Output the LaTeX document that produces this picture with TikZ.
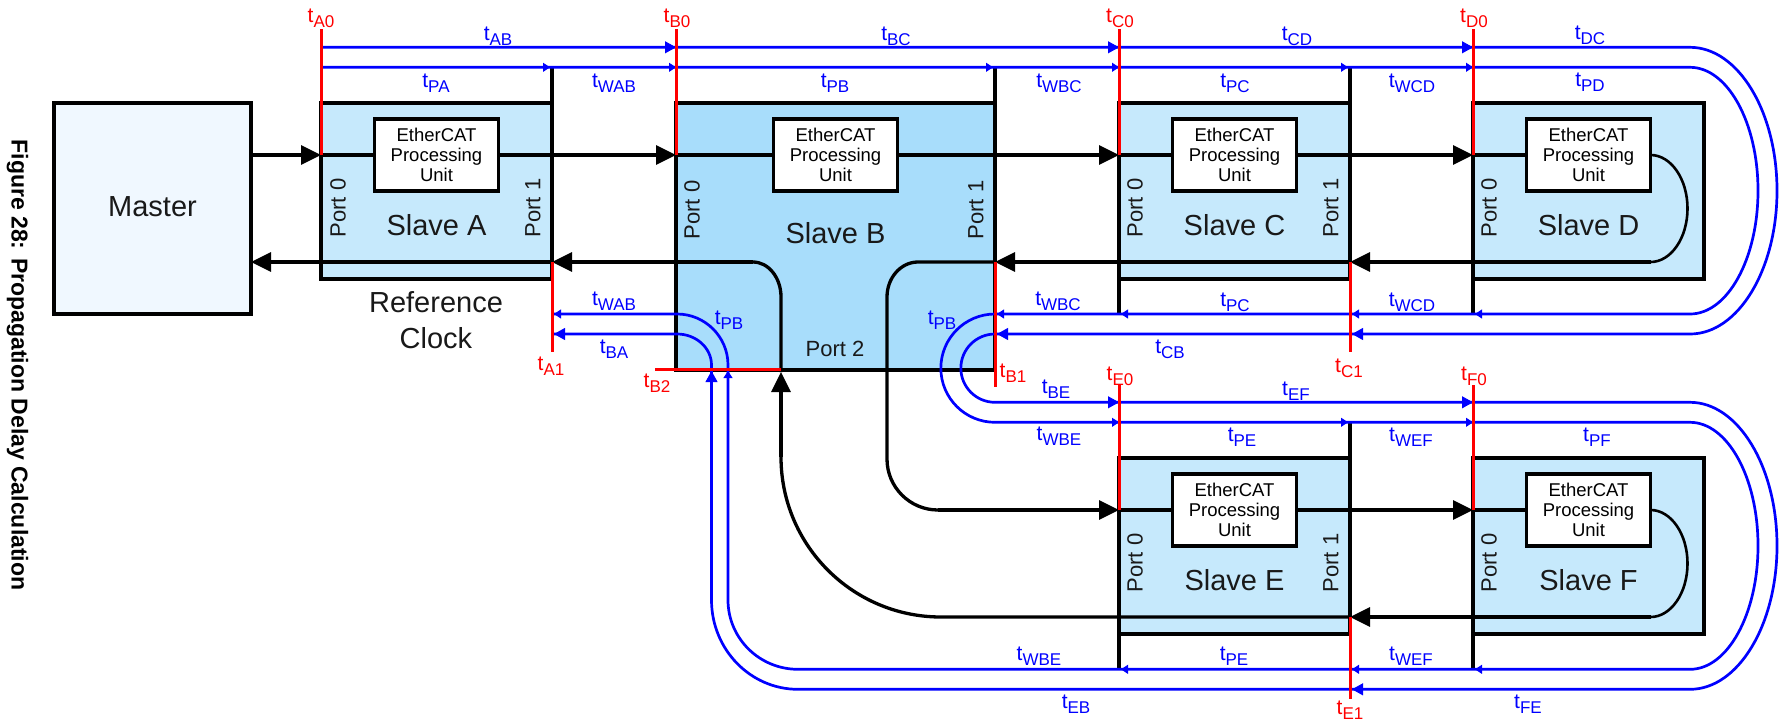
\documentclass[tikz,border=0pt]{standalone}
\usepackage{fontspec}
\setmainfont{Liberation Sans}
\usetikzlibrary{arrows.meta}
\definecolor{mfill}{RGB}{240,248,255}
\definecolor{sfill}{RGB}{198,233,252}
\definecolor{bfill}{RGB}{168,221,251}
\definecolor{lblue}{RGB}{0,0,255}
\definecolor{lred}{RGB}{255,0,0}
\newcommand\tsub[1]{t\raisebox{-5pt}{\fontsize{17}{17}\selectfont #1}}
\begin{document}
\begin{tikzpicture}[x=1pt,y=-1pt,
  box/.style={draw=black,line width=3.3pt,inner sep=0pt,outer sep=0pt,anchor=north west},
  slave/.style={box,fill=sfill,minimum width=231pt,minimum height=176pt},
  epu/.style={draw=black,line width=3.3pt,fill=white,inner sep=0pt,outer sep=0pt,minimum width=124pt,minimum height=72pt,anchor=north,align=center,font=\fontsize{18.5}{20}\selectfont},
  blk/.style={draw=black,line width=3.3pt},
  bigarr/.style={-{Triangle[length=20pt,width=19pt]}},
  bln/.style={draw=lblue,line width=2.7pt},
  rln/.style={draw=lred,line width=3pt},
  barr/.style={draw=lblue,line width=1pt,-{Triangle[length=11pt,width=12pt]}},
  btick/.style={draw=lblue,line width=1pt,-{Triangle[length=7pt,width=9pt]}},
  blab/.style={text=lblue,font=\fontsize{21}{21}\selectfont,inner sep=0pt},
  rlab/.style={text=lred,font=\fontsize{21}{21}\selectfont,inner sep=0pt},
  bigtxt/.style={font=\fontsize{29}{36}\selectfont,align=center,text=black!90,inner sep=0pt},
  port/.style={font=\fontsize{22}{22}\selectfont,rotate=90,text=black!90,inner sep=0pt},
]
\useasboundingbox (0,0) rectangle (1785,721);

% caption
\node[rotate=-90,font=\bfseries\fontsize{23}{23}\selectfont,inner sep=0pt] (cap) at (17.5,365) {Figure 28: Propagation Delay Calculation};

% boxes
\node[box,fill=mfill,minimum width=197pt,minimum height=211pt] (master) at (54,103) {};
\node[slave] (slA) at (321,103) {};
\node[box,fill=bfill,minimum width=319pt,minimum height=267pt] (slB) at (676,103) {};
\node[slave] (slC) at (1119,103) {};
\node[slave] (slD) at (1473,103) {};
\node[slave] (slE) at (1119,458) {};
\node[slave] (slF) at (1473,458) {};

\node[epu] (eA) at (436.5,119) {EtherCAT\\Processing\\Unit};
\node[epu] (eB) at (835.5,119) {EtherCAT\\Processing\\Unit};
\node[epu] (eC) at (1234.5,119) {EtherCAT\\Processing\\Unit};
\node[epu] (eD) at (1588.5,119) {EtherCAT\\Processing\\Unit};
\node[epu] (eE) at (1234.5,474) {EtherCAT\\Processing\\Unit};
\node[epu] (eF) at (1588.5,474) {EtherCAT\\Processing\\Unit};

% texts
\node[bigtxt] (mtxt) at (152.5,207) {Master};
\node[bigtxt] (atxt) at (436.5,225) {Slave A};
\node[bigtxt] (btxt) at (835.5,233) {Slave B};
\node[bigtxt] (ctxt) at (1234.5,225) {Slave C};
\node[bigtxt] (dtxt) at (1588.5,225) {Slave D};
\node[bigtxt] (etxt) at (1234.5,580) {Slave E};
\node[bigtxt] (ftxt) at (1588.5,580) {Slave F};
\node[bigtxt] (ref) at (436,320) {Reference\\Clock};
\node[port] (pA0) at (338,208) {Port 0};
\node[port] (pA1) at (533,208) {Port 1};
\node[port] (pB0) at (692,210) {Port 0};
\node[port] (pB1) at (976,210) {Port 1};
\node[port] (pC0) at (1135,208) {Port 0};
\node[port] (pC1) at (1331,208) {Port 1};
\node[port] (pD0) at (1489,208) {Port 0};
\node[port] (pE0) at (1135,563) {Port 0};
\node[port] (pE1) at (1331,563) {Port 1};
\node[port] (pF0) at (1489,563) {Port 0};
\node[font=\fontsize{22}{22}\selectfont,text=black!90,inner sep=0pt] (pB2) at (835,349) {Port 2};

% black extensions
\draw[blk] (552,67.3) -- (slA.north east);
\draw[blk] (995,67.3) -- (slB.north east);
\draw[blk] (1350,67.3) -- (slC.north east);
\draw[blk] (slC.south west) -- (1119,314);
\draw[blk] (slD.south west) -- (1473,314);
\draw[blk] (1350,422.3) -- (slE.north east);
\draw[blk] (slE.south west) -- (1119,669.3);
\draw[blk] (slF.south west) -- (1473,669.3);

% black flow
\draw[blk,bigarr] (master.east |- eA.west) -- (slA.west |- eA.west);
\draw[blk] (slA.west |- eA.west) -- (eA.west);
\draw[blk,bigarr] (eA.east) -- (slB.west |- eA.east);
\draw[blk] (slB.west |- eB.west) -- (eB.west);
\draw[blk,bigarr] (eB.east) -- (slC.west |- eB.east);
\draw[blk] (slC.west |- eC.west) -- (eC.west);
\draw[blk,bigarr] (eC.east) -- (slD.west |- eC.east);
\draw[blk] (slD.west |- eD.west) -- (eD.west);
\draw[blk,line width=2.6pt] (eD.east) arc[start angle=-90,end angle=90,x radius=37,y radius=53.5] coordinate (dret);
\draw[blk,bigarr] (dret) -- (slC.east |- dret);
\draw[blk,bigarr] (slC.east |- dret) -- (slB.east |- dret);
\draw[blk] (slB.east |- dret) -- (918,262) arc[start angle=-90,end angle=-180,x radius=31,y radius=35] -- (887,459) arc[start angle=180,end angle=90,radius=51] coordinate (bE);
\draw[blk,bigarr] (bE) -- (slE.west |- eE.west);
\draw[blk] (slE.west |- eE.west) -- (eE.west);
\draw[blk,bigarr] (eE.east) -- (slF.west |- eE.east);
\draw[blk] (slF.west |- eF.west) -- (eF.west);
\draw[blk,line width=2.6pt] (eF.east) arc[start angle=-90,end angle=90,x radius=37,y radius=53.5] coordinate (fret);
\draw[blk,bigarr] (fret) -- (slE.east |- fret);
\draw[blk] (slE.east |- fret) -- (941,617) arc[start angle=90,end angle=180,radius=160] coordinate (bup);
\draw[blk,bigarr] (bup) -- (781,372);
\draw[blk] (781,372) -- (781,297) arc[start angle=0,end angle=-90,x radius=28,y radius=35] coordinate (bret);
\draw[blk,bigarr] (bret) -- (slA.east |- bret);
\draw[blk,bigarr] (slA.east |- bret) -- (master.east |- bret);

% blue lines
\draw[bln] (321,47.3) -- (1690,47.3) arc[start angle=-90,end angle=90,x radius=87,y radius=143.35] -- (995,334) arc[start angle=-90,end angle=-270,radius=34.15] -- (1690,402.3) arc[start angle=-90,end angle=90,x radius=87,y radius=143.5] -- (798,689.3) arc[start angle=90,end angle=180,x radius=86.5,y radius=89.3] -- (711.5,365) arc[start angle=0,end angle=-90,x radius=34.5,y radius=31] -- (552,334);
\draw[bln] (321,67.3) -- (1690,67.3) arc[start angle=-90,end angle=90,x radius=68,y radius=123.35] -- (995,314) arc[start angle=-90,end angle=-270,radius=54.15] -- (1690,422.3) arc[start angle=-90,end angle=90,x radius=68,y radius=123.5] -- (798,669.3) arc[start angle=90,end angle=180,x radius=70,y radius=69.3] -- (728,365) arc[start angle=0,end angle=-90,radius=51] -- (552,314);

% blue arrowheads
\foreach \x in {676,1119,1473} \draw[barr] (\x-12,47.3) -- (\x,47.3);
\foreach \x in {550,676,993,1119,1348,1473} \draw[btick] (\x-8,67.3) -- (\x,67.3);
\foreach \x in {554,997,1352} \draw[barr] (\x+12,334) -- (\x,334);
\foreach \x in {554,997,1121,1352,1475} \draw[btick] (\x+8,314) -- (\x,314);
\foreach \x in {1119,1473} \draw[barr] (\x-12,402.3) -- (\x,402.3);
\foreach \x in {1119,1348,1473} \draw[btick] (\x-8,422.3) -- (\x,422.3);
\foreach \x in {1121,1352,1475} \draw[btick] (\x+8,669.3) -- (\x,669.3);
\draw[barr] (1364,689.3) -- (1352,689.3);
\draw[barr] (711.5,383) -- (711.5,371);
\draw[btick] (728,379) -- (728,371);

% red lines
\draw[rln] (321,29) -- (321,155);
\draw[rln] (676,29) -- (676,155);
\draw[rln] (1119,29) -- (1119,155);
\draw[rln] (1473,29) -- (1473,155);
\draw[rln] (552,262) -- (552,351.7);
\draw[rln] (995,262) -- (995,387);
\draw[rln] (1350,262) -- (1350,351.7);
\draw[rln] (655,369.5) -- (781,369.5);
\draw[rln] (1119,385) -- (1119,510);
\draw[rln] (1473,385) -- (1473,510);
\draw[rln] (1350,617) -- (1350,699);

% red labels
\node[rlab] (lA0) at (321,18) {\tsub{A0}};
\node[rlab] (lB0) at (677,18) {\tsub{B0}};
\node[rlab] (lC0) at (1120,18) {\tsub{C0}};
\node[rlab] (lD0) at (1474,18) {\tsub{D0}};
\node[rlab] (lA1) at (551,366) {\tsub{A1}};
\node[rlab] (lB2) at (657,383) {\tsub{B2}};
\node[rlab] (lB1) at (1013,373) {\tsub{B1}};
\node[rlab] (lC1) at (1349,368) {\tsub{C1}};
\node[rlab] (lE0) at (1120,376) {\tsub{E0}};
\node[rlab] (lF0) at (1474,376) {\tsub{F0}};
\node[rlab] (lE1) at (1350,710) {\tsub{E1}};

% blue labels
\node[blab] at (498,36) {\tsub{AB}};
\node[blab] at (896,36) {\tsub{BC}};
\node[blab] at (1297,36) {\tsub{CD}};
\node[blab] at (1590,35) {\tsub{DC}};
\node[blab] at (436,83) {\tsub{PA}};
\node[blab] at (614,83) {\tsub{WAB}};
\node[blab] at (835,83) {\tsub{PB}};
\node[blab] at (1059,83) {\tsub{WBC}};
\node[blab] at (1235,83) {\tsub{PC}};
\node[blab] at (1412,83) {\tsub{WCD}};
\node[blab] at (1590,82) {\tsub{PD}};
\node[blab] at (614,301) {\tsub{WAB}};
\node[blab] at (1058,301) {\tsub{WBC}};
\node[blab] at (1235,302) {\tsub{PC}};
\node[blab] at (1412,302) {\tsub{WCD}};
\node[blab] at (614,349) {\tsub{BA}};
\node[blab] at (1170,349) {\tsub{CB}};
\node[blab] at (729,320) {\tsub{PB}};
\node[blab] at (942,320) {\tsub{PB}};
\node[blab] at (1056,389) {\tsub{BE}};
\node[blab] at (1296,391) {\tsub{EF}};
\node[blab] at (1059,436) {\tsub{WBE}};
\node[blab] at (1242,437) {\tsub{PE}};
\node[blab] at (1411,437) {\tsub{WEF}};
\node[blab] at (1597,437) {\tsub{PF}};
\node[blab] at (1039,656) {\tsub{WBE}};
\node[blab] at (1234,656) {\tsub{PE}};
\node[blab] at (1411,656) {\tsub{WEF}};
\node[blab] at (1076,704) {\tsub{EB}};
\node[blab] at (1528,704) {\tsub{FE}};
\end{tikzpicture}
\end{document}
